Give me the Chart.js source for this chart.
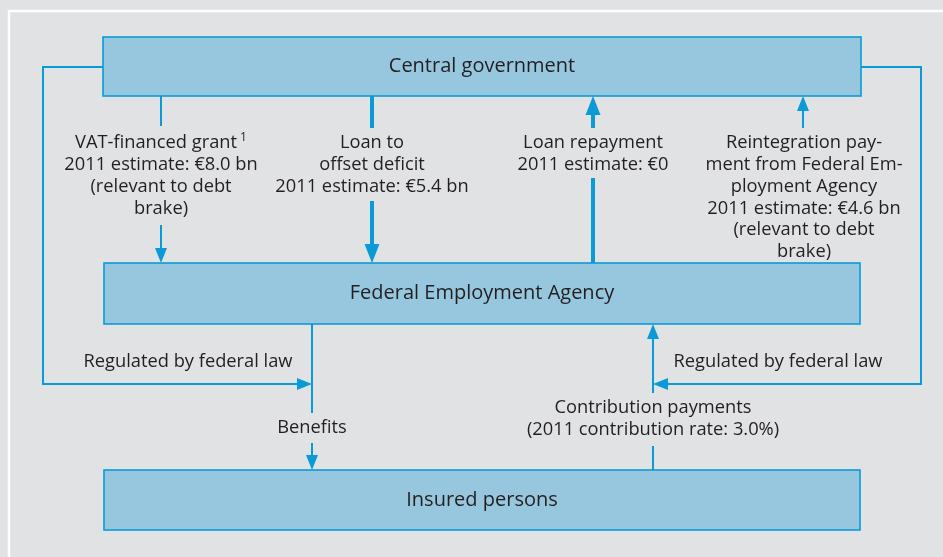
<!DOCTYPE html>
<html><head><meta charset="utf-8">
<script src="https://cdn.jsdelivr.net/npm/chart.js@4.4.1/dist/chart.umd.min.js"></script>
<style>html,body{margin:0;padding:0;background:#e1e2e4;}canvas{display:block;}</style>
</head><body>
<canvas id="c" width="943" height="557"></canvas>
<script>
// ---- content ----
const boxLabels = ['Central government', 'Federal Employment Agency', 'Insured persons'];
const flowLabels = [
  ['VAT-financed grant', '2011 estimate: €8.0 bn', '(relevant to debt', 'brake)'],
  ['Loan to', 'offset deficit', '2011 estimate: €5.4 bn'],
  ['Loan repayment', '2011 estimate: €0'],
  ['Reintegration pay-', 'ment from Federal Em-', 'ployment Agency', '2011 estimate: €4.6 bn', '(relevant to debt', 'brake)'],
  ['Regulated by federal law'],
  ['Regulated by federal law'],
  ['Benefits'],
  ['Contribution payments', '(2011 contribution rate: 3.0%)']
];
const footnoteMarks = ['1', '', '', '', '', '', '', ''];

// ---- layout (diagram units) ----
const boxX = [[103, 861], [104, 860], [104, 860]];
const boxY = [[37, 96], [263, 324], [470, 530]];
const labelX = [161, 372, 593, 804, 188, 778, 312, 653];
const labelY0 = [143, 143, 143, 143, 362, 362, 428, 408];
const lineGap = 21.8;
// connector polylines: [points], width
const connectors = [
  {pts: [[161, 96], [161, 126]], w: 2},
  {pts: [[161, 225], [161, 250]], w: 2},
  {pts: [[372, 96], [372, 128]], w: 4},
  {pts: [[372, 201], [372, 246]], w: 4},
  {pts: [[593, 112], [593, 128]], w: 4},
  {pts: [[593, 178], [593, 263]], w: 4},
  {pts: [[803, 110], [803, 128]], w: 2},
  {pts: [[103, 67], [43, 67], [43, 384], [299, 384]], w: 2},
  {pts: [[312, 324], [312, 413]], w: 2},
  {pts: [[312, 443], [312, 458]], w: 2},
  {pts: [[861, 67], [921, 67], [921, 384], [666, 384]], w: 2},
  {pts: [[653, 337], [653, 393]], w: 2},
  {pts: [[653, 446], [653, 470]], w: 2}
];
// arrowheads: tip x, tip y, direction, length, half-width
const arrows = [
  {x: 161, y: 263, d: 'down', l: 15, hw: 6},
  {x: 372, y: 263, d: 'down', l: 19, hw: 7.5},
  {x: 593, y: 96, d: 'up', l: 19, hw: 7.5},
  {x: 803, y: 96, d: 'up', l: 15, hw: 6},
  {x: 312, y: 384, d: 'right', l: 15, hw: 6},
  {x: 312, y: 470, d: 'down', l: 15, hw: 6},
  {x: 653, y: 384, d: 'left', l: 15, hw: 6},
  {x: 653, y: 324, d: 'up', l: 15, hw: 6}
];

const BLUE = '#0a9bd6';
const FILL = '#97c7df';
const TEXT = '#231f20';
const FONT = '"Open Sans", "DejaVu Sans", sans-serif';
const BOXFONT = '20px ' + FONT;
const LABFONT = '18.3px ' + FONT;
const SUPFONT = '12px ' + FONT;

const datasets = connectors.map(c => ({
  data: c.pts.map(p => ({x: p[0], y: p[1]})),
  showLine: true, borderColor: BLUE, borderWidth: c.w, pointRadius: 0,
  borderCapStyle: 'butt', borderJoinStyle: 'miter', fill: false, tension: 0
}));

const diagram = {
  id: 'diagram',
  beforeDatasetsDraw(chart) {
    const ctx = chart.ctx, sx = chart.scales.x, sy = chart.scales.y;
    const px = v => sx.getPixelForValue(v), py = v => sy.getPixelForValue(v);
    ctx.save();
    // frame
    ctx.strokeStyle = '#ffffff'; ctx.lineWidth = 2.5;
    ctx.strokeRect(px(9), py(11), px(960) - px(9), py(600) - py(11));
    // boxes
    boxLabels.forEach((lab, i) => {
      const x0 = px(boxX[i][0]), x1 = px(boxX[i][1]), y0 = py(boxY[i][0]), y1 = py(boxY[i][1]);
      ctx.fillStyle = FILL; ctx.fillRect(x0, y0, x1 - x0, y1 - y0);
      ctx.strokeStyle = BLUE; ctx.lineWidth = 1.6; ctx.strokeRect(x0, y0, x1 - x0, y1 - y0);
      ctx.fillStyle = TEXT; ctx.font = BOXFONT; ctx.textAlign = 'center'; ctx.textBaseline = 'middle';
      ctx.fillText(lab, (x0 + x1) / 2, (y0 + y1) / 2);
    });
    ctx.restore();
  },
  afterDatasetsDraw(chart) {
    const ctx = chart.ctx, sx = chart.scales.x, sy = chart.scales.y;
    const px = v => sx.getPixelForValue(v), py = v => sy.getPixelForValue(v);
    ctx.save();
    ctx.fillStyle = BLUE;
    arrows.forEach(a => {
      const x = px(a.x), y = py(a.y);
      ctx.beginPath(); ctx.moveTo(x, y);
      if (a.d === 'down') { ctx.lineTo(x - a.hw, y - a.l); ctx.lineTo(x + a.hw, y - a.l); }
      if (a.d === 'up') { ctx.lineTo(x - a.hw, y + a.l); ctx.lineTo(x + a.hw, y + a.l); }
      if (a.d === 'right') { ctx.lineTo(x - a.l, y - a.hw); ctx.lineTo(x - a.l, y + a.hw); }
      if (a.d === 'left') { ctx.lineTo(x + a.l, y - a.hw); ctx.lineTo(x + a.l, y + a.hw); }
      ctx.closePath(); ctx.fill();
    });
    ctx.fillStyle = TEXT; ctx.textAlign = 'center'; ctx.textBaseline = 'middle';
    flowLabels.forEach((lines, i) => {
      lines.forEach((t, j) => {
        ctx.font = LABFONT;
        const x = px(labelX[i]), y = py(labelY0[i] + j * lineGap);
        if (j === 0 && footnoteMarks[i]) {
          const w = ctx.measureText(t).width;
          ctx.font = SUPFONT;
          const fw = ctx.measureText(footnoteMarks[i]).width + 3;
          ctx.font = LABFONT;
          ctx.fillText(t, x - fw / 2, y);
          ctx.font = SUPFONT; ctx.textAlign = 'left';
          ctx.fillText(footnoteMarks[i], x - fw / 2 + w / 2 + 3, y - 5);
          ctx.textAlign = 'center';
        } else {
          ctx.fillText(t, x, y);
        }
      });
    });
    ctx.restore();
  }
};

new Chart(document.getElementById('c'), {
  type: 'scatter',
  data: {datasets},
  options: {
    responsive: false, animation: false, devicePixelRatio: 1,
    layout: {padding: 0},
    plugins: {legend: {display: false}, tooltip: {enabled: false}},
    scales: {
      x: {type: 'linear', min: 0, max: 943, display: false},
      y: {type: 'linear', min: 0, max: 557, reverse: true, display: false}
    }
  },
  plugins: [diagram]
});
</script>
</body></html>
